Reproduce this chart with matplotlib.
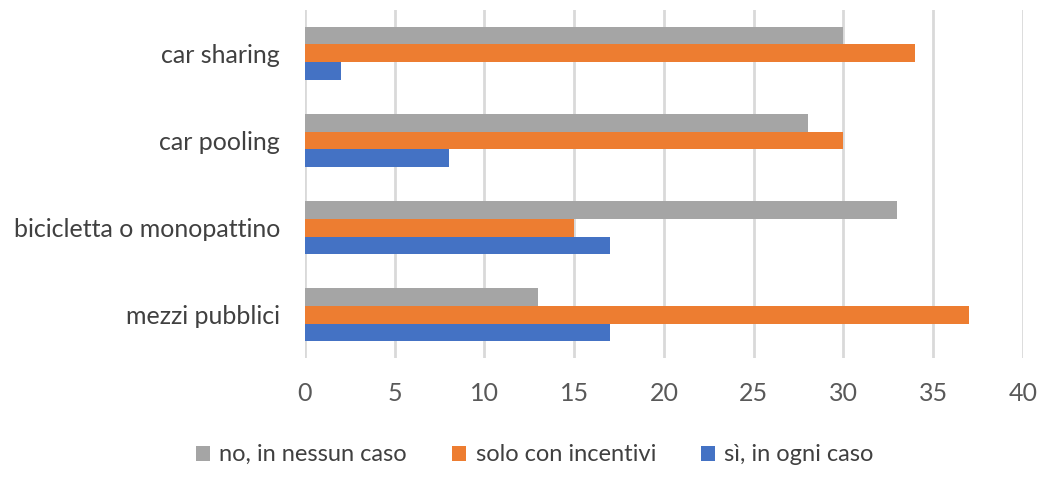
import numpy as np
import matplotlib
matplotlib.use('Agg')
from matplotlib import pyplot as plt

plt.rcParams['font.family'] = ['Lato', 'DejaVu Sans']

# risposte per mezzo di trasporto (dal basso verso l'alto)
categorie = ['mezzi pubblici', 'bicicletta o monopattino', 'car pooling', 'car sharing']
si_sempre = [17, 17, 8, 2]          # sì, in ogni caso
con_incentivi = [37, 15, 30, 34]    # solo con incentivi
mai = [13, 33, 28, 30]              # no, in nessun caso
etichette = ['sì, in ogni caso', 'solo con incentivi', 'no, in nessun caso']
colori = ['#4472C4', '#ED7D31', '#A5A5A5']

fig = plt.figure(figsize=(10.59, 4.96), dpi=100)
ax = fig.add_axes([0.288, 0.278, 0.678, 0.702])

y = np.arange(len(categorie))
h = 0.206
barre = []
for k, (serie, col, lab) in enumerate(zip([si_sempre, con_incentivi, mai], colori, etichette)):
    b = ax.barh(y + (k - 1) * h, serie, height=h, color=col, label=lab, zorder=3)
    barre.append(b)

ax.set_xlim(0, 40)
ax.set_ylim(-0.5, 3.5)
ax.set_xticks(np.arange(0, 41, 5))
ax.set_yticks(y)
ax.set_yticklabels(categorie)
ax.grid(axis='x', color='#d9d9d9', linewidth=2, zorder=0)
for s in ax.spines.values():
    s.set_visible(False)
ax.tick_params(axis='both', length=0)
ax.tick_params(axis='y', pad=18, labelsize=18, labelcolor='#404040')
ax.tick_params(axis='x', pad=17, labelsize=18, labelcolor='#595959')

# legenda in basso, ordine grigio / arancio / blu
fig.legend(barre[::-1], etichette[::-1], loc='center', bbox_to_anchor=(0.505, 0.083),
           ncol=3, frameon=False, fontsize=17, handlelength=0.6, handleheight=0.6,
           handletextpad=0.4, columnspacing=1.9, labelcolor='#404040')

fig.savefig('out.png', dpi=100)
